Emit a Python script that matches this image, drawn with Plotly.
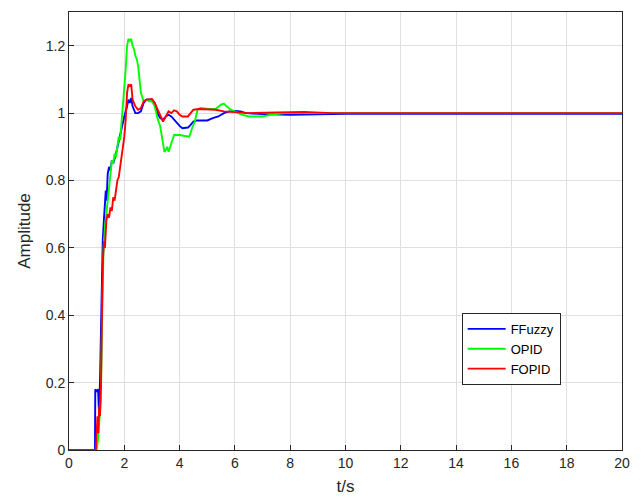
import plotly.graph_objects as go

# FFuzzy (blue)
t_ffuzzy = [0, 0.94, 0.95, 1.0, 1.05, 1.08, 1.12, 1.17, 1.22, 1.26, 1.3, 1.33, 1.36, 1.4, 1.45, 1.5, 1.55, 1.6,
            1.7, 1.8, 1.9, 2.0, 2.1, 2.15, 2.2, 2.25, 2.3, 2.4, 2.5, 2.6, 2.7, 2.8, 2.9, 3.0, 3.1, 3.2, 3.3, 3.4,
            3.5, 3.6, 3.7, 3.8, 3.9, 4.0, 4.1, 4.2, 4.3, 4.4, 4.5, 4.6, 4.8, 5.0, 5.2, 5.4, 5.6, 5.8, 6.0, 6.2,
            6.4, 7.0, 8.0, 9.0, 10.0, 12.0, 20.0]
y_ffuzzy = [0, 0, 0.18, 0.175, 0.18, 0.12, 0.2, 0.45, 0.62, 0.68, 0.72, 0.77, 0.74, 0.82, 0.84, 0.83, 0.86, 0.85,
            0.88, 0.92, 0.95, 0.99, 1.02, 1.04, 1.03, 1.045, 1.02, 1.0, 1.0, 1.005, 1.03, 1.04, 1.04, 1.04, 1.03,
            1.0, 0.985, 0.98, 0.99, 0.995, 0.99, 0.98, 0.97, 0.962, 0.955, 0.955, 0.957, 0.965, 0.975, 0.978,
            0.978, 0.978, 0.985, 0.99, 1.0, 1.005, 1.006, 1.005, 1.0, 0.997, 0.995, 0.997, 0.998, 0.998, 0.998]

# OPID (green)
t_opid = [0, 1.0, 1.05, 1.1, 1.15, 1.2, 1.25, 1.3, 1.35, 1.4, 1.45, 1.5, 1.55, 1.6, 1.65, 1.7, 1.75, 1.8, 1.85,
          1.9, 1.95, 2.0, 2.05, 2.1, 2.15, 2.2, 2.25, 2.3, 2.35, 2.4, 2.45, 2.5, 2.55, 2.6, 2.7, 2.8, 2.9, 3.0,
          3.1, 3.2, 3.3, 3.35, 3.4, 3.45, 3.5, 3.55, 3.6, 3.65, 3.7, 3.8, 3.9, 4.0, 4.2, 4.35, 4.45, 4.55, 4.65,
          4.75, 5.0, 5.3, 5.5, 5.6, 5.7, 5.85, 6.0, 6.2, 6.5, 7.0, 7.3, 7.8, 9.0, 20.0]
y_opid = [0, 0, 0.03, 0.08, 0.15, 0.4, 0.6, 0.66, 0.7, 0.74, 0.8, 0.82, 0.86, 0.85, 0.88, 0.87, 0.9, 0.93, 0.92,
          0.97, 1.02, 1.08, 1.13, 1.2, 1.22, 1.215, 1.22, 1.2, 1.19, 1.17, 1.16, 1.14, 1.1, 1.06, 1.035, 1.04,
          1.035, 1.035, 1.02, 0.985, 0.96, 0.93, 0.9, 0.885, 0.89, 0.9, 0.885, 0.9, 0.91, 0.935, 0.935, 0.935,
          0.932, 0.93, 0.955, 0.975, 1.01, 1.015, 1.013, 1.012, 1.025, 1.028, 1.02, 1.01, 1.005, 0.997, 0.99,
          0.99, 0.995, 1.0, 1.0, 1.0]

# FOPID (red)
t_fopid = [0, 0.97, 1.0, 1.03, 1.06, 1.09, 1.12, 1.16, 1.2, 1.23, 1.27, 1.3, 1.35, 1.4, 1.45, 1.5, 1.55, 1.6,
           1.65, 1.7, 1.75, 1.8, 1.85, 1.9, 1.95, 2.0, 2.05, 2.1, 2.15, 2.2, 2.25, 2.3, 2.4, 2.5, 2.6, 2.7, 2.8,
           2.9, 3.0, 3.1, 3.2, 3.3, 3.4, 3.5, 3.6, 3.7, 3.8, 3.9, 4.0, 4.1, 4.3, 4.4, 4.5, 4.7, 5.0, 5.3, 5.6,
           6.0, 6.5, 7.5, 8.5, 9.5, 20.0]
y_fopid = [0, 0, 0.05, 0.1, 0.05, 0.13, 0.1, 0.2, 0.45, 0.57, 0.62, 0.6, 0.68, 0.7, 0.69, 0.72, 0.71, 0.75,
           0.74, 0.78, 0.8, 0.81, 0.85, 0.87, 0.9, 0.93, 0.98, 1.06, 1.085, 1.08, 1.085, 1.04, 1.02, 1.01, 1.015,
           1.035, 1.04, 1.04, 1.042, 1.03, 1.01, 0.99, 0.975, 0.99, 1.005, 1.0, 1.008, 1.005, 0.995, 0.99, 0.99,
           1.0, 1.01, 1.012, 1.01, 1.01, 1.005, 1.003, 1.0, 1.002, 1.003, 1.0, 1.0]

x_ticks = list(range(0, 21, 2))
y_ticks = [0, 0.2, 0.4, 0.6, 0.8, 1.0, 1.2]
y_tick_labels = ["0", "0.2", "0.4", "0.6", "0.8", "1", "1.2"]

fig = go.Figure()
fig.add_trace(go.Scatter(x=t_ffuzzy, y=y_ffuzzy, mode="lines", name="FFuzzy",
                         line=dict(color="rgb(0,0,255)", width=1.9)))
fig.add_trace(go.Scatter(x=t_opid, y=y_opid, mode="lines", name="OPID",
                         line=dict(color="rgb(0,255,0)", width=1.9)))
fig.add_trace(go.Scatter(x=t_fopid, y=y_fopid, mode="lines", name="FOPID",
                         line=dict(color="rgb(255,0,0)", width=1.9)))

axis_common = dict(showgrid=True, gridcolor="rgb(223,223,223)", gridwidth=1, zeroline=False,
                   showline=True, linecolor="rgb(38,38,38)", linewidth=1, mirror=True,
                   ticks="inside", ticklen=5, tickcolor="rgb(38,38,38)", automargin=False,
                   tickfont=dict(family="Liberation Sans, Arial", size=14, color="rgb(38,38,38)"))

# page body has an 8px default margin (left/top), so the figure is sized/margined to compensate
fig.update_layout(
    width=636, height=493,
    margin=dict(l=61, r=22, t=4, b=51),
    paper_bgcolor="white", plot_bgcolor="white",
    font=dict(family="Liberation Sans, Arial", size=14, color="rgb(38,38,38)"),
    xaxis=dict(range=[0, 20], tickvals=x_ticks,
               title=dict(text="t/s", standoff=10), **axis_common),
    yaxis=dict(range=[0, 1.3], tickvals=y_ticks, ticktext=y_tick_labels,
               title=dict(text="Amplitude", standoff=10), **axis_common),
    legend=dict(x=0.710, y=0.313, xanchor="left", yanchor="top",
                bgcolor="white", bordercolor="rgb(38,38,38)", borderwidth=1,
                font=dict(family="Liberation Sans, Arial", size=13, color="black"),
                tracegroupgap=0, itemwidth=38),
    showlegend=True,
)

fig.write_html("out.html")
